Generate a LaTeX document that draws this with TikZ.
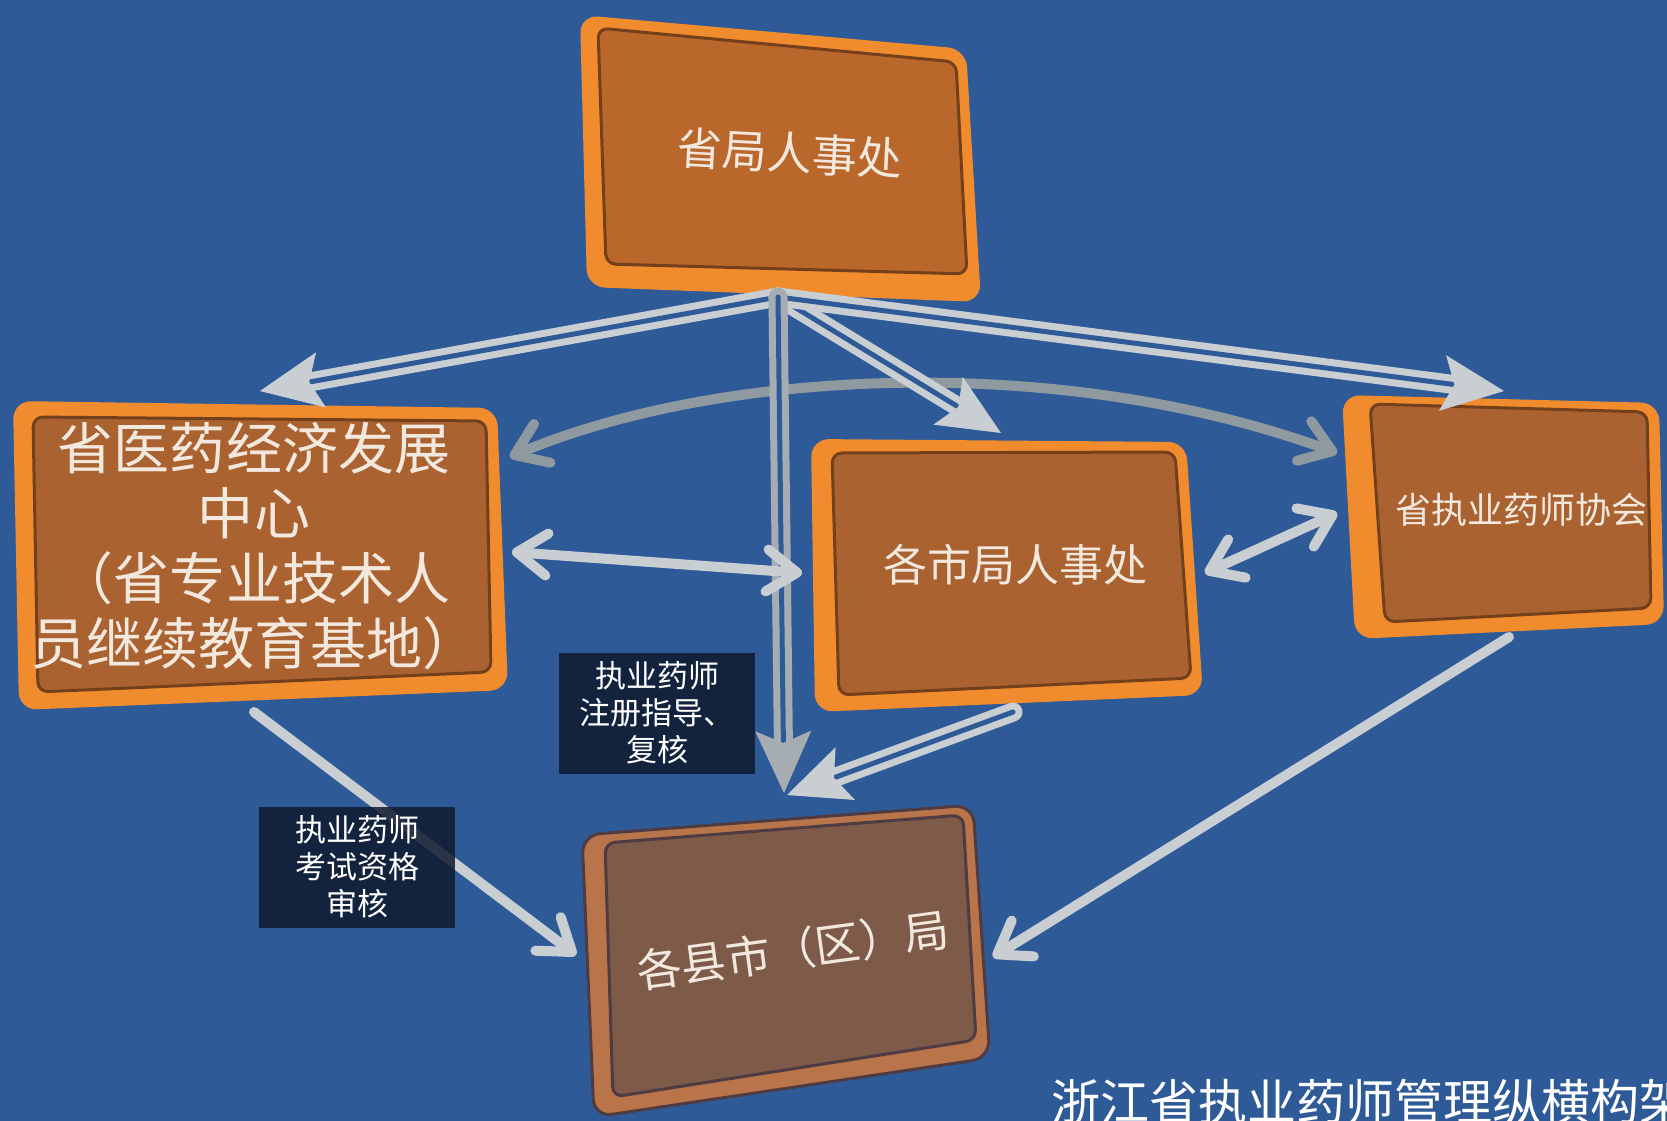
\documentclass[tikz,border=0pt]{standalone}
\usepackage{fontspec}
\newfontfamily\cjk{Noto Sans CJK SC}
\usetikzlibrary{arrows.meta,calc}

\definecolor{bgblue}{HTML}{2F5A98}
\definecolor{rimorange}{HTML}{F08C2E}
\definecolor{facetop}{HTML}{B9672A}
\definecolor{faceside}{HTML}{AA6230}
\definecolor{facedark}{HTML}{74401C}
\definecolor{rimbrown}{HTML}{B9744A}
\definecolor{facebrown}{HTML}{7E5A48}
\definecolor{darkbrown}{HTML}{4F3B42}
\definecolor{arrowgray}{HTML}{C9CED3}
\definecolor{vertgray}{HTML}{A5ADB2}
\definecolor{curvegray}{HTML}{8E99A0}
\definecolor{notebg}{HTML}{0F1A2E}
\definecolor{textwhite}{HTML}{F2E8DE}

\tikzset{
  rim/.style={fill=#1, rounded corners=18pt},
  face/.style={fill=#1, draw=facedark, line width=3pt, rounded corners=10pt},
  boxtext/.style={text=textwhite, align=center, inner sep=0pt},
  note/.style={fill=notebg, fill opacity=0.85, text opacity=1, text=white, align=center,
    inner sep=0pt, minimum width=196pt, minimum height=121pt,
    font=\cjk\fontsize{31}{37}\selectfont},
  dblline/.style={draw=#1, line width=7pt, double=bgblue, double distance=5pt, line cap=round},
  bighead/.style={draw=#1, fill=#1, line width=1pt, -{Stealth[length=62pt,width=56pt,inset=12pt]}},
  barbline/.style={draw=#1, line width=10pt, line cap=round},
}

\begin{document}
\begin{tikzpicture}[x=1pt, y=-1pt, >={Straight Barb[length=30pt,width=42pt,round]}]
    \clip (0,0) rectangle (1667,1121);
    \fill[bgblue] (0,0) rectangle (1667,1121);

    % Boxes
    \path[rim=rimorange] (580,15) -- (966,49) -- (981,302) -- (587,287) -- cycle;
    \path[face=facetop] (598,28) -- (956,62) -- (967,274) -- (606,264) -- cycle;

    \path[rim=rimorange] (13,401) -- (497,408) -- (508,690) -- (19,710) -- cycle;
    \path[face=faceside] (33,417) -- (486,421) -- (491,672) -- (38,692) -- cycle;

    \path[rim=rimorange] (811,439) -- (1186,442) -- (1203,695) -- (815,712) -- cycle;
    \path[face=faceside] (832,453) -- (1175,452) -- (1191,678) -- (839,695) -- cycle;

    \path[rim=rimorange] (1342,395) -- (1659,403) -- (1664,624) -- (1355,639) -- cycle;
    \path[face=faceside] (1370,404) -- (1647,412) -- (1651,608) -- (1385,622) -- cycle;

    \path[rim=rimbrown, draw=darkbrown, line width=3pt] (582,835) -- (973,805) -- (990,1058) -- (594,1117) -- cycle;
    \path[face=facebrown, draw=darkbrown] (605,843) -- (963,815) -- (976,1040) -- (613,1097) -- cycle;

    % Nodes
    \node[boxtext, font=\cjk\fontsize{45}{54}\selectfont, rotate=-3] (shengju) at (790,153) {省局人事处};
    \node[boxtext, font=\cjk\fontsize{56}{65}\selectfont] (zhongxin) at (254,546)
        {省医药经济发展\\中心\\（省专业技术人\\员继续教育基地）};
    \node[boxtext, font=\cjk\fontsize{44}{52}\selectfont] (shiju) at (1015,565) {各市局人事处};
    \node[boxtext, font=\cjk\fontsize{36}{44}\selectfont] (xiehui) at (1521,510) {省执业药师协会};
    \node[boxtext, font=\cjk\fontsize{45}{54}\selectfont, rotate=7.7] (xianju) at (793,950) {各县市（区）局};

    % Arrow ends
    \coordinate (apex) at (778,297);
    \coordinate (toZhongxin) at (260,391);
    \coordinate (toShiju) at (1001,433);
    \coordinate (toXiehui) at (1504,391);
    \coordinate (toXianju) at (784,793);
    \coordinate (fromShiju) at (1013,712);
    \coordinate (toXianjuB) at (787,795);
    \coordinate (fromZhongxin) at (254,712);
    \coordinate (toXianjuL) at (576,955);
    \coordinate (fromXiehui) at (1509,637);
    \coordinate (toXianjuR) at (993,957);
    \coordinate (zxRight) at (512,552);
    \coordinate (sjLeft) at (802,573);
    \coordinate (sjRight) at (1205,573);
    \coordinate (xhLeft) at (1337,513);
    \coordinate (zxTop) at (510,457);
    \coordinate (xhTop) at (1337,453);

    % Curved arrow
    \draw[barbline=curvegray, <->] (zxTop) .. controls (720,368) and (1060,352) .. (xhTop);

    % Arrows from the top office
    \draw[dblline=arrowgray, shorten >=45pt] (apex) -- (toZhongxin);
    \draw[bighead=arrowgray] ($(toZhongxin)!40pt!(apex)$) -- (toZhongxin);
    \draw[dblline=arrowgray, shorten >=45pt] (apex) -- (toShiju);
    \draw[bighead=arrowgray] ($(toShiju)!40pt!(apex)$) -- (toShiju);
    \draw[dblline=arrowgray, shorten >=45pt] (apex) -- (toXiehui);
    \draw[bighead=arrowgray] ($(toXiehui)!40pt!(apex)$) -- (toXiehui);
    \draw[dblline=vertgray, shorten >=45pt] (apex) -- (toXianju);
    \draw[bighead=vertgray] ($(toXianju)!40pt!(apex)$) -- (toXianju);
    \draw[dblline=arrowgray, shorten >=45pt] (fromShiju) -- (toXianjuB);
    \draw[bighead=arrowgray] ($(toXianjuB)!40pt!(fromShiju)$) -- (toXianjuB);

    % Single arrows
    \draw[barbline=arrowgray, ->] (fromZhongxin) -- (toXianjuL);
    \draw[barbline=arrowgray, ->] (fromXiehui) -- (toXianjuR);
    \draw[barbline=arrowgray, <->] (zxRight) -- (sjLeft);
    \draw[barbline=arrowgray, <->] (sjRight) -- (xhLeft);

    % Labels
    \node[note] (zhuce) at (657,713) {执业药师\\注册指导、\\复核};
    \node[note] (kaoshi) at (357,867) {执业药师\\考试资格\\审核};
    \node[anchor=base west, text=white, inner sep=0pt, font=\cjk\fontsize{49}{58}\selectfont]
        (title) at (1051,1120) {浙江省执业药师管理纵横构架};
\end{tikzpicture}
\end{document}
